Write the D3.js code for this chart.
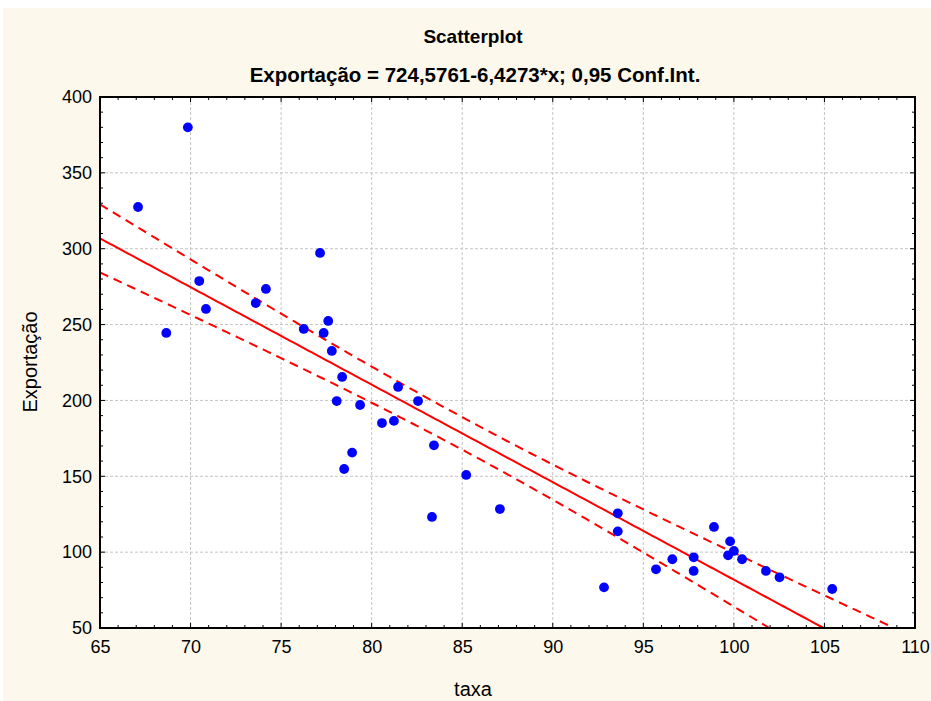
<!DOCTYPE html>
<html><head><meta charset="utf-8">
<script src="https://cdn.jsdelivr.net/npm/d3@7"></script>
<style>body{margin:0;background:#fff}svg{display:block}text{font-family:"Liberation Sans",Arial,sans-serif}</style>
</head><body>
<svg id="c" width="931" height="701"></svg>
<script>
const taxa = [69.85,67.1,70.48,70.85,73.6,74.16,68.66,77.15,77.6,76.25,77.35,77.8,78.37,78.07,79.36,81.46,82.56,80.57,81.23,78.92,78.48,83.44,85.22,83.33,87.08,93.59,93.59,92.83,95.7,96.6,97.78,97.78,98.9,99.79,100.0,99.68,100.45,101.77,102.52,105.43];
const exportacao = [380,327.5,278.7,260.3,264.2,273.5,244.5,297.2,252.4,247.1,244.5,232.6,215.5,199.6,197,208.9,199.6,185.1,186.5,165.6,154.8,170.4,150.9,123.2,128.4,125.6,113.7,76.8,88.7,95.3,96.6,87.6,116.6,107.1,100.8,97.9,95.3,87.6,83.4,75.7];
const intercept = 724.5761, slope = -6.4273, tCrit = 2.0244;
const xTicks = [65,70,75,80,85,90,95,100,105,110];
const yTicks = [50,100,150,200,250,300,350,400];
const titleText = "Scatterplot";
const subtitleText = "Exportação = 724,5761-6,4273*x; 0,95 Conf.Int.";

const svg = d3.select("#c");
svg.append("rect").attr("x",3).attr("y",8).attr("width",928).attr("height",693).attr("fill","#fdf8ec");
const L=100,R=915,T=97,B=628;
const x = d3.scaleLinear().domain([65,110]).range([L,R]);
const y = d3.scaleLinear().domain([50,400]).range([B,T]);
svg.append("rect").attr("x",L).attr("y",T).attr("width",R-L).attr("height",B-T).attr("fill","#fff");

// grid
const g = svg.append("g");
g.selectAll(".gx").data(xTicks.slice(1,-1)).enter().append("line")
 .attr("x1",d=>x(d)).attr("x2",d=>x(d)).attr("y1",T).attr("y2",B)
 .attr("stroke","#c4c4c4").attr("stroke-dasharray","3,2").attr("stroke-width",1);
g.selectAll(".gy").data(yTicks.slice(1,-1)).enter().append("line")
 .attr("y1",d=>y(d)).attr("y2",d=>y(d)).attr("x1",L).attr("x2",R)
 .attr("stroke","#c4c4c4").attr("stroke-dasharray","3,2").attr("stroke-width",1);

// regression band
const n = taxa.length;
const xbar = d3.mean(taxa);
const Sxx = d3.sum(taxa, v=>(v-xbar)*(v-xbar));
const sse = d3.sum(taxa.map((v,i)=>{const r=exportacao[i]-(intercept+slope*v);return r*r;}));
const s = Math.sqrt(sse/(n-2));
const xs = d3.range(65,110.001,0.25);
const fit = v=>intercept+slope*v;
const hw = v=>tCrit*s*Math.sqrt(1/n+(v-xbar)*(v-xbar)/Sxx);
svg.append("clipPath").attr("id","clip").append("rect").attr("x",L).attr("y",T).attr("width",R-L).attr("height",B-T);
const lg = svg.append("g").attr("clip-path","url(#clip)");
const line = d3.line().x(d=>x(d[0])).y(d=>y(d[1]));
lg.append("path").attr("d",line(xs.map(v=>[v,fit(v)]))).attr("fill","none").attr("stroke","#ff0000").attr("stroke-width",2);
lg.append("path").attr("d",line(xs.map(v=>[v,fit(v)+hw(v)]))).attr("fill","none").attr("stroke","#ff0000").attr("stroke-width",2).attr("stroke-dasharray","9,6");
lg.append("path").attr("d",line(xs.map(v=>[v,fit(v)-hw(v)]))).attr("fill","none").attr("stroke","#ff0000").attr("stroke-width",2).attr("stroke-dasharray","9,6");

// points
svg.append("g").selectAll("circle").data(taxa).enter().append("circle")
 .attr("cx",d=>x(d)).attr("cy",(d,i)=>y(exportacao[i])).attr("r",4.9).attr("fill","#0000ff");

// ticks (inward) on all four sides
const minorX = d3.range(65,111,1), minorY = d3.range(50,401,10);
const tk = svg.append("g").attr("stroke","#000").attr("stroke-width",1);
minorX.forEach(v=>{const len = v%5===0?5:3;
 tk.append("line").attr("x1",x(v)).attr("x2",x(v)).attr("y1",B).attr("y2",B-len);
 tk.append("line").attr("x1",x(v)).attr("x2",x(v)).attr("y1",T).attr("y2",T+len);});
minorY.forEach(v=>{const len = v%50===0?5:3;
 tk.append("line").attr("y1",y(v)).attr("y2",y(v)).attr("x1",L).attr("x2",L+len);
 tk.append("line").attr("y1",y(v)).attr("y2",y(v)).attr("x1",R).attr("x2",R-len);});
svg.append("rect").attr("x",L).attr("y",T).attr("width",R-L).attr("height",B-T).attr("fill","none").attr("stroke","#000").attr("stroke-width",2);

// axis labels via d3 axes (tick text only)
const ax = svg.append("g").attr("transform",`translate(0,${B})`).call(d3.axisBottom(x).tickValues(xTicks).tickSize(0).tickPadding(12));
ax.select(".domain").remove();
ax.selectAll("text").attr("font-size",18).attr("fill","#000").attr("font-family","Liberation Sans, Arial, sans-serif");
const ay = svg.append("g").attr("transform",`translate(${L},0)`).call(d3.axisLeft(y).tickValues(yTicks).tickSize(0).tickPadding(8));
ay.select(".domain").remove();
ay.selectAll("text").attr("font-size",18).attr("fill","#000").attr("font-family","Liberation Sans, Arial, sans-serif");

svg.append("text").attr("x",473).attr("y",43).attr("text-anchor","middle").attr("font-weight","bold").attr("font-size",19).text(titleText);
svg.append("text").attr("x",475).attr("y",82).attr("text-anchor","middle").attr("font-weight","bold").attr("font-size",20.5).text(subtitleText);
svg.append("text").attr("x",473).attr("y",696).attr("text-anchor","middle").attr("font-size",20).text("taxa");
svg.append("text").attr("transform","translate(37,362) rotate(-90)").attr("text-anchor","middle").attr("font-size",20).text("Exportação");
</script>
</body></html>
